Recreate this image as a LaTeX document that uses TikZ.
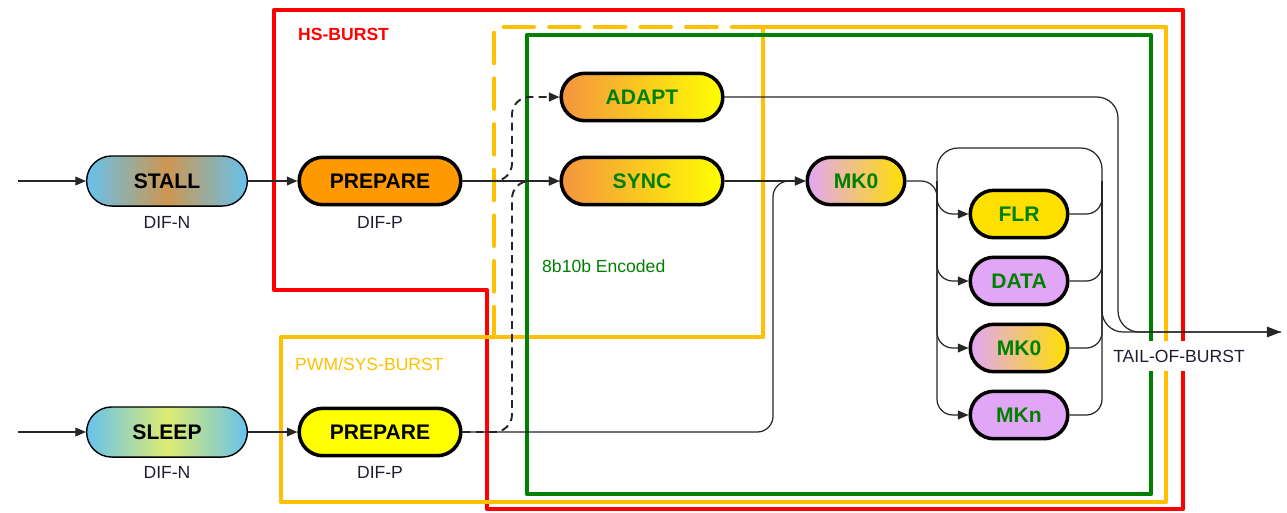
\documentclass[tikz,border=0pt]{standalone}
\usepackage{fontspec}
\setmainfont{Liberation Sans}
\usetikzlibrary{arrows.meta}

\definecolor{hsrot}{RGB}{255,0,0}
\definecolor{pwmgelb}{RGB}{255,192,0}
\definecolor{enkgruen}{RGB}{0,128,0}
\definecolor{himmel}{RGB}{102,194,238}
\definecolor{tabak}{RGB}{205,150,80}
\definecolor{lindgruen}{RGB}{222,236,112}
\definecolor{vollorange}{RGB}{255,153,0}
\definecolor{hellorange}{RGB}{244,148,64}
\definecolor{zitrone}{RGB}{255,255,0}
\definecolor{gold}{RGB}{255,224,0}
\definecolor{violett}{RGB}{226,166,246}
\definecolor{tinte}{RGB}{30,30,50}

\begin{document}
\begin{tikzpicture}[x=0.02cm, y=-0.02cm,
	zustand/.style={draw=black, line width=2pt, rounded corners=13.5pt, minimum width=92pt, minimum height=27pt, inner sep=0pt, font=\fontsize{12}{14}\selectfont\bfseries},
	eingangszustand/.style={zustand, line width=0.8pt, minimum width=91.5pt, minimum height=28.5pt, rounded corners=14.25pt},
	kurz/.style={minimum width=55.5pt},
	gruen/.style={text=enkgruen},
	linie/.style={line width=0.7pt, black!85},
	pfeil/.style={linie, -{Triangle[length=6pt,width=5pt]}},
	gestrichelt/.style={line width=1.1pt, dash pattern=on 4.5pt off 3pt},
	beschriftung/.style={font=\fontsize{10}{12}\selectfont, text=tinte},
	rahmen/.style={line width=2.7pt, line join=round},
]
	\useasboundingbox (0,0) rectangle (1287,512); % Rand wie Vorlage
	
	% Rahmen
	\draw[rahmen, hsrot] (274,10) -- (1183,10) -- (1183,509) -- (487,509) -- (487,290) -- (274,290) -- cycle;
	\draw[rahmen, pwmgelb] (281,337) -- (763,337) -- (763,27) -- (1166,27) -- (1166,502) -- (281,502) -- cycle;
	\draw[rahmen, pwmgelb, line cap=round, dash pattern=on 17pt off 9pt] (494,337) -- (494,27) -- (763,27);
	\draw[rahmen, enkgruen] (527,35) rectangle (1151,494);
	
	\node[anchor=west, hsrot, font=\fontsize{10}{12}\selectfont\bfseries] (hs) at (292,34) {HS-BURST};
	\node[anchor=west, pwmgelb, font=\fontsize{10}{12}\selectfont] (pwm) at (289,364) {PWM/SYS-BURST};
	\node[anchor=west, enkgruen, font=\fontsize{10}{12}\selectfont] (enc) at (536,266) {8b10b Encoded};
	
	% Zustaende
	\node[eingangszustand, left color=himmel, right color=himmel, middle color=tabak] (stall) at (167,181) {STALL};
	\node[eingangszustand, left color=himmel, right color=himmel, middle color=lindgruen] (sleep) at (167,432) {SLEEP};
	\node[zustand, fill=vollorange] (prep1) at (380,181) {PREPARE};
	\node[zustand, fill=zitrone] (prep2) at (380,432) {PREPARE};
	\node[zustand, gruen, left color=hellorange, right color=zitrone] (adapt) at (642,97) {ADAPT};
	\node[zustand, gruen, left color=hellorange, right color=zitrone] (sync) at (642,181) {SYNC};
	\node[zustand, kurz, gruen, left color=violett, right color=gold] (mk0) at (856,181) {MK0};
	\node[zustand, kurz, gruen, fill=gold] (flr) at (1019,214) {FLR};
	\node[zustand, kurz, gruen, fill=violett] (data) at (1019,281) {DATA};
	\node[zustand, kurz, gruen, left color=violett, right color=gold] (mk0b) at (1019,348) {MK0};
	\node[zustand, kurz, gruen, fill=violett] (mkn) at (1019,415) {MKn};
	
	\node[beschriftung] (difn1) at (167,222) {DIF-N};
	\node[beschriftung] (difp1) at (380,222) {DIF-P};
	\node[beschriftung] (difn2) at (167,472) {DIF-N};
	\node[beschriftung] (difp2) at (380,472) {DIF-P};
	
	% Hilfspunkte
	\coordinate (ein1) at (18,181);
	\coordinate (ein2) at (18,432);
	\coordinate (weiche) at (512,0);
	\coordinate (steig) at (773,0);
	\coordinate (abzweig) at (1118,0);
	\coordinate (schleifeL) at (937,148);
	\coordinate (schleifeR) at (1102,148);
	\coordinate (ende) at (1281,332);
	
	% Verbindungen
	\draw[pfeil] (ein1) -- (stall);
	\draw[pfeil] (ein2) -- (sleep);
	\draw[pfeil] (stall) -- (prep1);
	\draw[pfeil] (sleep) -- (prep2);
	\draw[pfeil] (prep1) -- (sync);
	\draw[pfeil] (sync) -- (mk0);
	\draw[pfeil, gestrichelt, rounded corners=10pt] (prep1.east) -| (weiche |- adapt.west) -- (adapt.west);
	\draw[pfeil, gestrichelt, rounded corners=10pt] (prep2.east) -| (weiche |- sync.west) -- (sync.west);
	\draw[pfeil, rounded corners=9pt] (prep2.east) -| (steig |- mk0.west) -- (mk0.west);
	
	\draw[linie, rounded corners=12pt] (schleifeL |- mk0.east) -- (schleifeL) -- (schleifeR) -- (schleifeR |- mk0.east); % Schleife
	\draw[linie, rounded corners=9pt] (mk0.east) -| (schleifeL |- flr.west);
	\foreach \ziel in {flr, data, mk0b, mkn} {
		\draw[pfeil, rounded corners=9pt] (schleifeL |- mk0.east) |- (\ziel.west);
		\draw[linie, rounded corners=9pt] (\ziel.east) -| (schleifeR |- mk0.east);
	}
	\draw[linie, -{Triangle[length=8pt,width=6pt]}, rounded corners=12pt] (schleifeR |- mk0.east) |- (ende);
	\draw[linie, rounded corners=12pt] (adapt.east) -| (abzweig |- ende) -- (ende);
	
	\node[beschriftung, fill=white, inner xsep=2pt, inner ysep=5pt] (tail) at (1179,356) {TAIL-OF-BURST};
\end{tikzpicture}
\end{document}
